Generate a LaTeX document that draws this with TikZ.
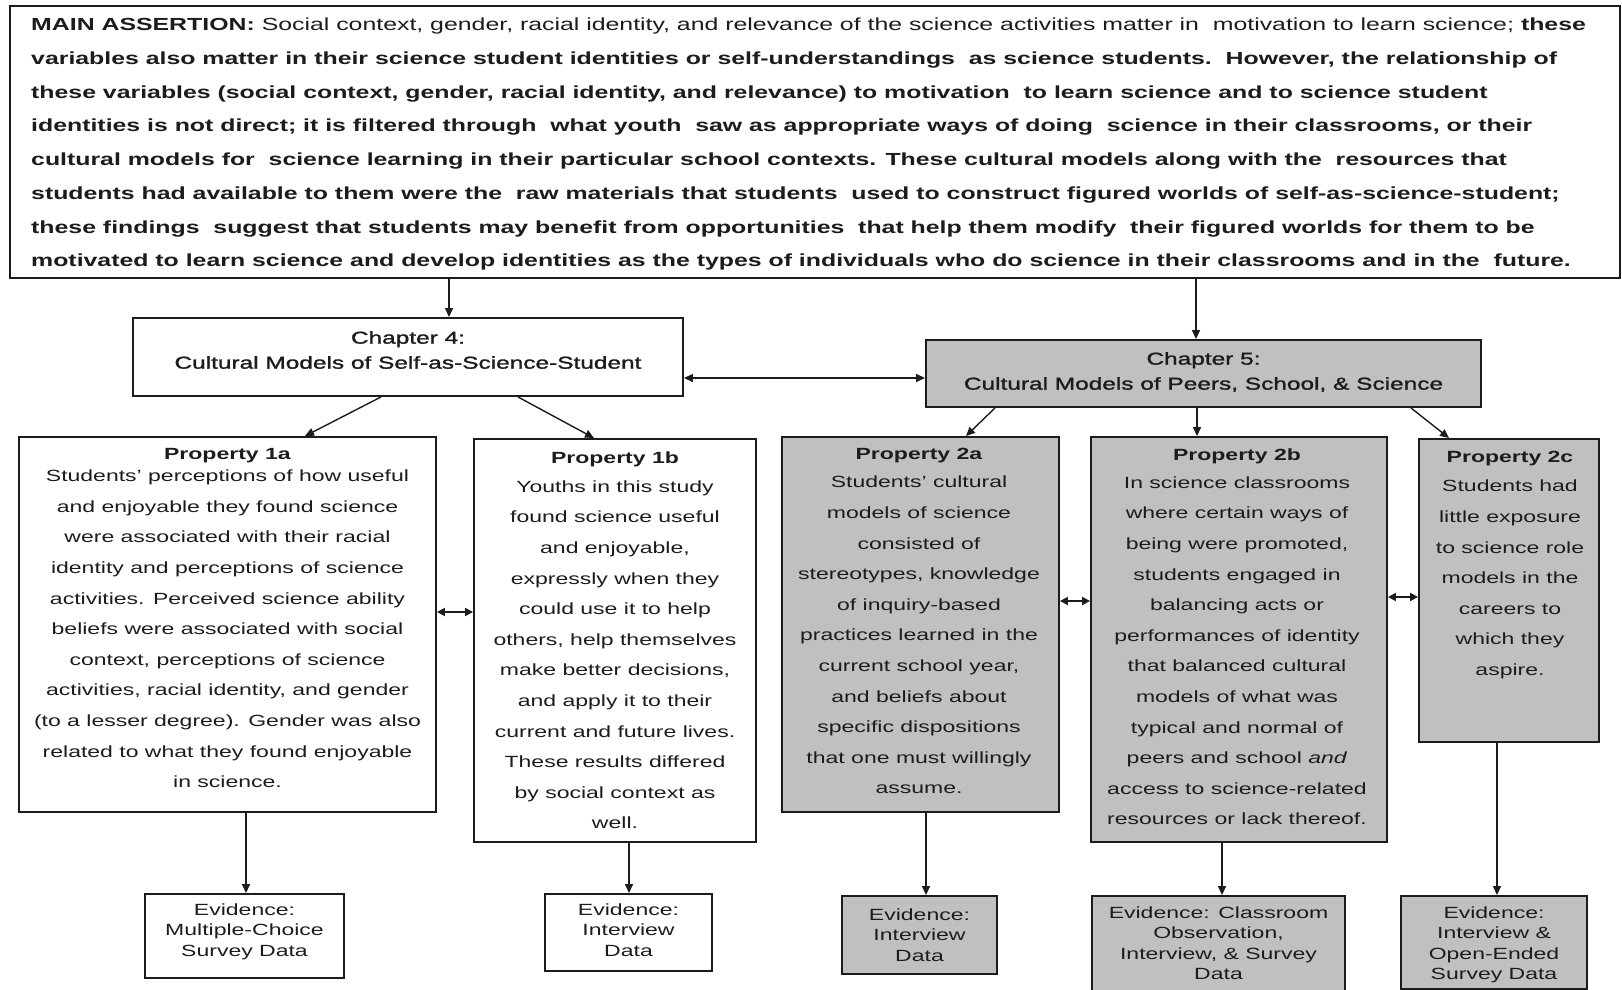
\documentclass[tikz,border=0pt]{standalone}
\usepackage{fontspec}
\setmainfont{Liberation Sans}[FakeStretch=1.42]
\newfontfamily\chapfont{Liberation Sans}[FakeStretch=1.42,FakeBold=1.5]
\usetikzlibrary{arrows.meta,fit}
\definecolor{boxgray}{RGB}{192,192,192}
\definecolor{ink}{RGB}{28,28,28}

\begin{document}
\begin{tikzpicture}[x=1pt,y=-1pt,
  box/.style={draw=ink, line width=1.9pt, inner sep=0pt},
  shaded/.style={box, fill=boxgray},
  arr/.style={draw=ink, line width=1.4pt, -{Triangle[length=9pt,width=8pt]}},
  both/.style={draw=ink, line width=1.4pt, {Triangle[length=9pt,width=8pt]}-{Triangle[length=9pt,width=8pt]}},
  dbl/.style={draw=ink, line width=1.8pt, {Triangle[length=8pt,width=8pt]}-{Triangle[length=8pt,width=8pt]}},
  body/.style={inner sep=0pt, anchor=north, align=center, font=\fontsize{16.2}{30.6}\selectfont, text=ink},
  evid/.style={inner sep=0pt, anchor=north, align=center, font=\fontsize{16.2}{20.5}\selectfont, text=ink},
  chap/.style={inner sep=0pt, anchor=north, align=center, font=\chapfont\fontsize{17.2}{25}\selectfont, text=ink},
]
\useasboundingbox (0,0) rectangle (1622,990);
\fill[white] (0,0) rectangle (1622,990);

% ---- boxes ----
\node[box, fit={(10,6) (1620,278)}] (main) {};
\node[box, fit={(133,318) (683,396)}] (ch4) {};
\node[shaded, fit={(926,340) (1481,407)}] (ch5) {};
\node[box, fit={(19,437) (436,812)}] (p1a) {};
\node[box, fit={(474,439) (756,842)}] (p1b) {};
\node[shaded, fit={(782,437) (1059,812)}] (p2a) {};
\node[shaded, fit={(1091,437) (1387,842)}] (p2b) {};
\node[shaded, fit={(1419,439) (1599,742)}] (p2c) {};
\node[box, fit={(145,894) (344,978)}] (ev1a) {};
\node[box, fit={(545,894) (712,971)}] (ev1b) {};
\node[shaded, fit={(842,896) (997,974)}] (ev2a) {};
\node[shaded, fit={(1092,896) (1345,996)}] (ev2b) {};
\node[shaded, fit={(1401,896) (1587,989)}] (ev2c) {};

% ---- main assertion ----
\node[anchor=north west, inner sep=0pt, align=left, text=ink,
      font=\fontsize{17.5}{33.7}\selectfont] (mtext) at (31,18)
{\textbf{MAIN ASSERTION:} Social context, gender, racial identity, and relevance of the science activities matter in\ \ motivation to learn science; \textbf{these}\\
\textbf{variables also matter in their science student identities or self-understandings\ \ as science students.\ \ However, the relationship of}\\
\textbf{these variables (social context, gender, racial identity, and relevance) to motivation\ \ to learn science and to science student}\\
\textbf{identities is not direct; it is filtered through\ \ what youth\ \ saw as appropriate ways of doing\ \ science in their classrooms, or their}\\
\textbf{cultural models for\ \ science learning in their particular school contexts. These cultural models along with the\ \ resources that}\\
\textbf{students had available to them were the\ \ raw materials that students\ \ used to construct figured worlds of self-as-science-student;}\\
\textbf{these findings\ \ suggest that students may benefit from opportunities\ \ that help them modify\ \ their figured worlds for them to be}\\
\textbf{motivated to learn science and develop identities as the types of individuals who do science in their classrooms and in the\ \ future.}};

% ---- chapter titles ----
\node[chap] (t4) at (408,331) {Chapter 4:\\Cultural Models of Self-as-Science-Student};
\node[chap] (t5) at (1203.5,352) {Chapter 5:\\Cultural Models of Peers, School, \& Science};

% ---- properties ----
\node[body] (t1a) at (227.5,448.4) {\textbf{Property 1a}\\[-8.6pt]
Students' perceptions of how useful\\
and enjoyable they found science\\
were associated with their racial\\
identity and perceptions of science\\
activities. Perceived science ability\\
beliefs were associated with social\\
context, perceptions of science\\
activities, racial identity, and gender\\
(to a lesser degree). Gender was also\\
related to what they found enjoyable\\
in science.};

\node[body] (t1b) at (615,451.4) {\textbf{Property 1b}\\[-1.6pt]
Youths in this study\\
found science useful\\
and enjoyable,\\
expressly when they\\
could use it to help\\
others, help themselves\\
make better decisions,\\
and apply it to their\\
current and future lives.\\
These results differed\\
by social context as\\
well.};

\node[body] (t2a) at (919,448.4) {\textbf{Property 2a}\\[-2.6pt]
Students' cultural\\
models of science\\
consisted of\\
stereotypes, knowledge\\
of inquiry-based\\
practices learned in the\\
current school year,\\
and beliefs about\\
specific dispositions\\
that one must willingly\\
assume.};

\node[body] (t2b) at (1237,448.4) {\textbf{Property 2b}\\[-2.6pt]
In science classrooms\\
where certain ways of\\
being were promoted,\\
students engaged in\\
balancing acts or\\
performances of identity\\
that balanced cultural\\
models of what was\\
typical and normal of\\
peers and school \textit{and}\\
access to science-related\\
resources or lack thereof.};

\node[body] (t2c) at (1510,451.4) {\textbf{Property 2c}\\[-1.6pt]
Students had\\
little exposure\\
to science role\\
models in the\\
careers to\\
which they\\
aspire.};

% ---- evidence ----
\node[evid] (e1a) at (244.5,903.4) {Evidence:\\Multiple-Choice\\Survey Data};
\node[evid] (e1b) at (628.5,903.4) {Evidence:\\Interview\\Data};
\node[evid] (e2a) at (919.5,908.4) {Evidence:\\Interview\\Data};
\node[evid] (e2b) at (1218.5,906.4) {Evidence: Classroom\\Observation,\\Interview, \& Survey\\Data};
\node[evid] (e2c) at (1494,906.4) {Evidence:\\Interview \&\\Open-Ended\\Survey Data};

% ---- connectors ----
\coordinate (c4) at (449,0);
\coordinate (c5) at (1196,0);
\coordinate (lnk) at (0,378);
\draw[arr] (main.south -| c4) -- (ch4.north -| c4);
\draw[arr] (main.south -| c5) -- (ch5.north -| c5);
\draw[both] (ch4.east |- lnk) -- (ch5.west |- lnk);

\draw[arr] ([xshift=-27pt]ch4.south) -- ([xshift=77.5pt]p1a.north);
\draw[arr] ([xshift=110pt]ch4.south) -- ([xshift=-21pt]p1b.north);
\draw[arr] ([xshift=-208.5pt]ch5.south) -- ([xshift=45.5pt]p2a.north);
\draw[arr] ([xshift=-6.5pt]ch5.south) -- ([xshift=-42pt]p2b.north);
\draw[arr] ([xshift=207.5pt]ch5.south) -- ([xshift=-60pt]p2c.north);

\coordinate (d1) at (0,612);
\coordinate (d2) at (0,601);
\coordinate (d3) at (0,597);
\draw[dbl] (p1a.east |- d1) -- (p1b.west |- d1);
\draw[dbl] (p2a.east |- d2) -- (p2b.west |- d2);
\draw[dbl] (p2b.east |- d3) -- (p2c.west |- d3);

\coordinate (x1a) at (246,0);
\coordinate (x1b) at (629,0);
\coordinate (x2a) at (926,0);
\coordinate (x2b) at (1222,0);
\coordinate (x2c) at (1497,0);
\draw[arr] (p1a.south -| x1a) -- (ev1a.north -| x1a);
\draw[arr] (p1b.south -| x1b) -- (ev1b.north -| x1b);
\draw[arr] (p2a.south -| x2a) -- (ev2a.north -| x2a);
\draw[arr] (p2b.south -| x2b) -- (ev2b.north -| x2b);
\draw[arr] (p2c.south -| x2c) -- (ev2c.north -| x2c);
\end{tikzpicture}
\end{document}
